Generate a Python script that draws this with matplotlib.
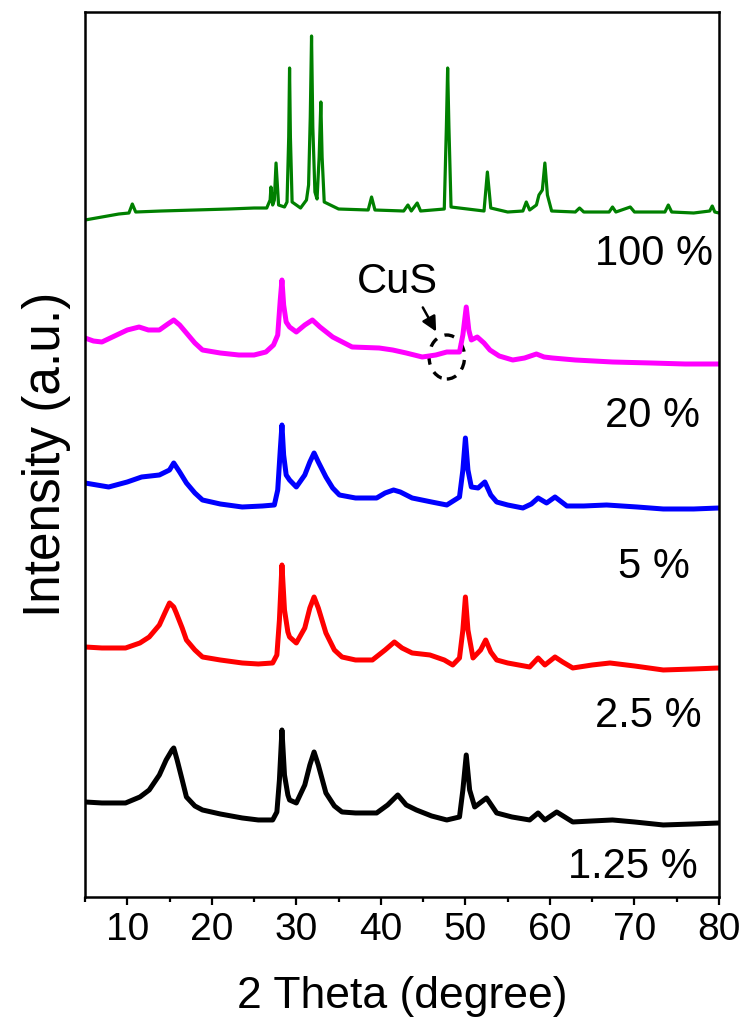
import matplotlib
matplotlib.use("Agg")
import matplotlib.pyplot as plt
from matplotlib.patches import Ellipse
from matplotlib.ticker import MultipleLocator

plt.rcParams['font.family'] = ['Liberation Sans', 'DejaVu Sans']

# --
# data: 2 theta (deg) and stacked intensity (a.u.)

x_100 = [5, 7, 9, 10.2, 10.6, 11.0, 14, 18, 22, 25, 26.5, 26.9, 27.0, 27.2, 27.4, 27.6, 27.9,
         28.6, 28.9, 29.1, 29.2, 29.3, 29.5, 30.5, 31.2, 31.45, 31.65, 31.8, 31.95, 32.2, 32.45,
         32.7, 32.9, 33.05, 33.3, 35, 38.5, 38.9, 39.3, 42.7, 43.2, 43.6, 44.3, 44.7, 47.5,
         47.75, 47.9, 48.05, 48.3, 52.2, 52.6, 53.0, 55, 56.8, 57.2, 57.6, 58.4, 58.7, 59.1,
         59.4, 59.7, 60.2, 63, 63.5, 64, 67, 67.4, 67.8, 69.5, 70, 73.6, 74.0, 74.4, 77, 78.9,
         79.2, 79.5, 80]
y_100 = [677, 680, 683, 684, 693, 685, 686, 687, 688, 689, 689, 697, 710, 692, 697, 734, 692,
         690, 695, 760, 829, 760, 695, 689, 697, 712, 780, 861, 770, 705, 698,
         740, 795, 740, 695, 688, 687, 700, 687, 686, 692, 686, 694, 686, 688,
         770, 829, 770, 690, 686, 725, 689, 685, 686, 695, 687, 692, 702, 707,
         734, 702, 686, 685, 689, 685, 685, 690, 685, 690, 685, 685, 692, 685, 684, 686,
         691, 685, 684]

x_20 = [5, 6, 7, 8.5, 10, 11.4, 12.5, 13.8, 14.8, 15.5, 16.2, 17, 18, 18.9, 21, 23.2, 25, 26.4,
        27.3, 27.8, 28.1, 28.3, 28.5, 28.8, 29.2, 30, 31, 31.9, 32.8, 34.3, 36.6, 39.8, 41.4,
        43, 44.9, 46.5, 47.8, 49.3, 49.7, 50.1, 50.4, 50.7, 51.4, 52.2, 52.9, 54, 55.6, 57,
        58.4, 59.3, 60.3, 63, 67.4, 72, 76, 80]
y_20 = [559, 556, 555, 561, 567, 570, 567, 567, 573, 577, 572, 564, 554, 547, 544, 542, 542, 545,
        552, 562, 597, 617, 592, 575, 570, 565, 572, 577, 570, 560, 550, 549, 547,
        544, 540, 542, 545, 545, 562, 590, 567, 557, 560, 554, 547, 541, 537, 539,
        543, 540, 539, 537, 535, 534, 533, 533]

x_5 = [5, 7.8, 10, 11.7, 13.8, 15, 15.5, 16.2, 17, 18, 18.9, 21, 23.6, 26, 27.4, 27.8, 28.1,
       28.3, 28.5, 28.8, 29.2, 30, 31, 31.6, 32.1, 32.6, 33.5, 34.3, 35.1, 37, 39.5, 40.5,
       41.5, 42.3, 43.7, 46, 47.8, 49.3, 49.7, 50.0, 50.3, 50.7, 51.5, 52.3, 53, 53.7, 55,
       56.8, 57.8, 58.6, 59.6, 60.6, 62, 64, 66.7, 70.3, 73.4, 77, 80]
y_5 = [414, 410, 415, 420, 422, 427, 434, 425, 414, 404, 397, 393, 390, 391, 392, 407, 447,
       472, 442, 422, 417, 410, 422, 435, 444, 435, 420, 409, 402, 399, 399, 404,
       407, 405, 399, 395, 392, 400, 427, 459, 427, 410, 409, 415, 402, 395, 392,
       389, 393, 399, 394, 400, 391, 391, 392, 390, 388, 388, 389]

x_2p5 = [5, 7, 9.8, 11.5, 12.6, 13.8, 14.5, 15.0, 15.5, 15.8, 16.5, 17, 18, 18.9, 21, 23.6,
         25.5, 27.2, 27.7, 28.0, 28.3, 28.6, 29.0, 29.2, 30, 31, 31.6, 32.1, 32.6, 33.5, 34.5,
         35.4, 37, 39, 40.5, 41.6, 42.5, 43.7, 45.8, 47.5, 48.5, 49.3, 49.7, 50.0, 50.3, 50.9,
         51.8, 52.4, 53, 53.7, 55, 57.6, 58.6, 59.4, 60.6, 61.5, 62.7, 65, 67.1, 70, 73.4,
         77, 80]
y_2p5 = [250, 249, 249, 254, 260, 272, 285, 294, 290, 284, 269, 257, 247, 240, 237, 234,
         233, 234, 242, 277, 332, 287, 265, 260, 254, 269, 289, 300, 289, 264, 247,
         240, 237, 237, 247, 255, 249, 244, 242, 237, 232, 239, 267, 300, 267, 239,
         247, 257, 245, 237, 234, 230, 239, 232, 240, 235, 229, 232, 234, 231, 227,
         228, 229]

x_1p25 = [5, 7, 9.8, 11.5, 12.6, 13.8, 14.6, 15.3, 15.5, 15.9, 16.5, 17, 18, 18.9, 21, 23.6,
          25.5, 27.2, 27.7, 28.0, 28.3, 28.6, 29.0, 29.2, 30, 31, 31.6, 32.1, 32.6, 33.5, 34.5,
          35.4, 37, 39.5, 40.8, 42, 43, 44.2, 46, 47.8, 49.3, 49.7, 50.1, 50.5, 51.1, 52.5,
          53.7, 55.5, 57.6, 58.6, 59.4, 60.8, 62.7, 65, 67.4, 70, 73.4, 77, 80]
y_1p25 = [95, 94, 94, 100, 107, 122, 137, 147, 149, 137, 117, 100, 91, 87, 83, 79,
          77, 77, 85, 117, 167, 122, 102, 97, 94, 112, 132, 145, 132, 104, 91,
          85, 84, 84, 92, 102, 92, 87, 81, 77, 80, 107, 142, 107, 90, 99,
          84, 80, 77, 84, 77, 85, 75, 76, 77, 75, 72, 73, 74]

series = [
  (x_100, y_100, 'green', '100 %', 632),
  (x_20, y_20, '#ff00ff', '20 %', 470),
  (x_5, y_5, 'blue', '5 %', 319),
  (x_2p5, y_2p5, 'red', '2.5 %', 170),
  (x_1p25, y_1p25, 'black', '1.25 %', 19),
]
label_right = [79.3, 77.75, 76.6, 78.0, 77.5]

# --

fig = plt.figure(figsize=(7.5, 10.36), dpi=100)
ax = fig.add_axes([0.1133, 0.1342, 0.8454, 0.8542])

for (xs, ys, c, lab, yb), xr in zip(series, label_right):
  lw = 2.3 if c == 'green' else 3.6
  ax.plot(xs, ys, color=c, lw=lw, solid_joinstyle='round')
  ax.text(xr, yb, lab, ha='right', va='baseline', fontsize=30)

# CuS marker
ax.text(37.2, 604, 'CuS', ha='left', va='baseline', fontsize=30)
ax.annotate('', xy=(46.7, 563), xytext=(44.8, 592),
            arrowprops=dict(arrowstyle='-|>', color='black', lw=1.8, mutation_scale=22))
ax.add_patch(Ellipse((47.8, 540), 4.2, 44, fill=False, ls=(0, (3, 2.5)), lw=2.4, ec='black'))

ax.set_xlim(5, 80)
ax.set_ylim(0, 885)
ax.xaxis.set_major_locator(MultipleLocator(10))
ax.xaxis.set_minor_locator(MultipleLocator(5))
ax.tick_params(axis='x', which='major', direction='out', length=6, width=1.6, labelsize=28, pad=5)
ax.tick_params(axis='x', which='minor', direction='out', length=3.5, width=1.6)
ax.set_yticks([])
for s in ax.spines.values():
  s.set_linewidth(1.8)

ax.set_xlabel('2 Theta (degree)', fontsize=32, labelpad=20)
ax.set_ylabel('Intensity (a.u.)', fontsize=37, labelpad=10)

fig.savefig('out.png', dpi=100)
